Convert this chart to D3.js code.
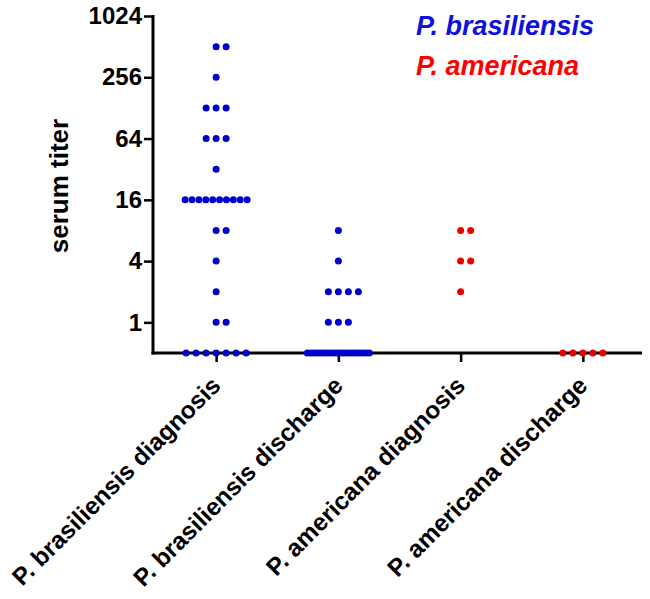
<!DOCTYPE html>
<html><head><meta charset="utf-8">
<script src="https://cdn.jsdelivr.net/npm/d3@7"></script>
<style>body{margin:0;background:#fff}svg{display:block}text{font-family:Arial,"Liberation Sans",sans-serif}</style>
</head><body>
<script>
const categories = ["P. brasiliensis diagnosis","P. brasiliensis discharge","P. americana diagnosis","P. americana discharge"];
const species = ["P. brasiliensis","P. brasiliensis","P. americana","P. americana"];
const bdiagnosis = [512,512,256,128,128,128,64,64,64,32,16,16,16,16,16,16,16,16,16,16,8,8,4,2,1,1,0.5,0.5,0.5,0.5,0.5,0.5,0.5];
const bdischarge = [8,4,2,2,2,2,1,1,1,0.5,0.5,0.5,0.5,0.5,0.5,0.5,0.5,0.5,0.5,0.5,0.5,0.5,0.5,0.5,0.5,0.5,0.5,0.5,0.5];
const adiagnosis = [8,8,4,4,2];
const adischarge = [0.5,0.5,0.5,0.5,0.5];
const yTicks = [1,4,16,64,256,1024];
const legendLabels = ["P. brasiliensis","P. americana"];
const colors = {"P. brasiliensis":"#0000cc","P. americana":"#ee0000"};
const legendColors = {"P. brasiliensis":"#1010dd","P. americana":"#ff0000"};

const groups = [bdiagnosis, bdischarge, adiagnosis, adischarge];
const W = 650, H = 599;
const svg = d3.select("body").append("svg").attr("width", W).attr("height", H);

const x = d3.scalePoint().domain(categories).range([155, 644]).padding(0.5);
const y = d3.scaleLog().base(2).domain([0.5, 1024]).range([353, 16]);

// points
const pts = [];
groups.forEach((vals, gi) => {
  const byVal = d3.group(vals, v => v);
  byVal.forEach((arr, v) => {
    const n = arr.length;
    arr.forEach((_, i) => {
      let off;
      if (n <= 7) off = (i - Math.floor((n - 1) / 2)) * 10;
      else off = (i - (n - 1) / 2) * (62 / (n - 1));
      pts.push({cat: categories[gi], sp: species[gi], v, off});
    });
  });
});

// axes
const yAxis = d3.axisLeft(y).tickValues(yTicks).tickFormat(d3.format("d")).tickSize(9).tickPadding(2);
const gy = svg.append("g").attr("transform", "translate(153,0)").call(yAxis);
gy.select(".domain").remove();
gy.selectAll(".tick line").attr("stroke", "#000").attr("stroke-width", 2.5);
gy.selectAll(".tick text").attr("font-size", 24).attr("font-weight", "bold").attr("fill", "#000");

const xAxis = d3.axisBottom(x).tickSize(9).tickFormat("");
const gx = svg.append("g").attr("transform", "translate(0,353)").call(xAxis);
gx.select(".domain").remove();
gx.selectAll(".tick line").attr("stroke", "#000").attr("stroke-width", 2.5);

svg.append("line").attr("x1", 153).attr("x2", 153).attr("y1", y(1024) - 1).attr("y2", y(0.5) + 1.5)
  .attr("stroke", "#000").attr("stroke-width", 3);
svg.append("line").attr("x1", 151.5).attr("x2", 642).attr("y1", y(0.5)).attr("y2", y(0.5))
  .attr("stroke", "#000").attr("stroke-width", 3);

// x labels
svg.append("g").selectAll("text").data(categories).join("text")
  .attr("transform", d => `translate(${x(d) + 6},${387}) rotate(-45)`)
  .attr("text-anchor", "end")
  .attr("font-size", 24.5).attr("font-weight", "bold").attr("fill", "#000")
  .text(d => d);

// y title
svg.append("text").attr("transform", "translate(68,186) rotate(-90)")
  .attr("text-anchor", "middle").attr("font-size", 26).attr("font-weight", "bold")
  .text("serum titer");

// dots
svg.append("g").selectAll("circle").data(pts).join("circle")
  .attr("cx", d => x(d.cat) + d.off)
  .attr("cy", d => y(d.v))
  .attr("r", 3.5)
  .attr("fill", d => colors[d.sp]);

// legend
svg.append("g").selectAll("text").data(legendLabels).join("text")
  .attr("x", 416).attr("y", (d, i) => 35 + i * 40)
  .attr("font-size", 27).attr("font-weight", "bold").attr("font-style", "italic")
  .attr("fill", d => legendColors[d])
  .text(d => d);
</script>
</body></html>
